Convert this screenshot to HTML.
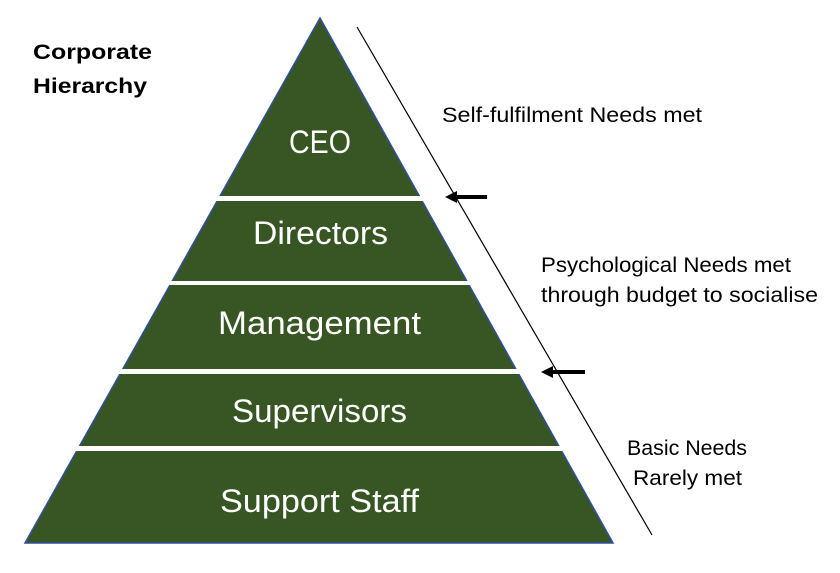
<!DOCTYPE html>
<html><head><style>body{margin:0;background:#fff}svg{display:block}</style></head><body>
<svg width="840" height="573" xmlns="http://www.w3.org/2000/svg" font-family="Liberation Sans, sans-serif">
<polygon points="320,18 613,543 25,543" fill="#375623" stroke="#2f4f9f" stroke-width="1.5"/>
<rect x="0" y="196" width="700" height="5" fill="#fff"/>
<rect x="0" y="281" width="700" height="4" fill="#fff"/>
<rect x="0" y="369" width="700" height="5" fill="#fff"/>
<rect x="0" y="446" width="700" height="5" fill="#fff"/>
<g fill="#fff" font-size="32" lengthAdjust="spacingAndGlyphs">
<text x="289" y="153" textLength="62" lengthAdjust="spacingAndGlyphs">CEO</text>
<text x="253" y="244" textLength="135" lengthAdjust="spacingAndGlyphs">Directors</text>
<text x="218" y="334" textLength="203" lengthAdjust="spacingAndGlyphs">Management</text>
<text x="232" y="422" textLength="175" lengthAdjust="spacingAndGlyphs">Supervisors</text>
<text x="220" y="512" textLength="199" lengthAdjust="spacingAndGlyphs">Support Staff</text>
</g>
<line x1="357" y1="27" x2="652" y2="535" stroke="#000" stroke-width="1.2"/>
<rect x="456" y="195" width="31" height="4" fill="#000"/>
<polygon points="445,197 457,191 457,203" fill="#000"/>
<rect x="552" y="370" width="33" height="4" fill="#000"/>
<polygon points="541,372 553,366 553,378" fill="#000"/>
<g font-size="21" fill="#000">
<text x="33" y="59" font-weight="bold" textLength="119" lengthAdjust="spacingAndGlyphs">Corporate</text>
<text x="33" y="93" font-weight="bold" textLength="114" lengthAdjust="spacingAndGlyphs">Hierarchy</text>
<text x="442" y="122" textLength="260" lengthAdjust="spacingAndGlyphs">Self-fulfilment Needs met</text>
<text x="541" y="272" textLength="250" lengthAdjust="spacingAndGlyphs">Psychological Needs met</text>
<text x="541" y="302" textLength="277" lengthAdjust="spacingAndGlyphs">through budget to socialise</text>
<text x="627" y="455" textLength="120" lengthAdjust="spacingAndGlyphs">Basic Needs</text>
<text x="633" y="485" textLength="109" lengthAdjust="spacingAndGlyphs">Rarely met</text>
</g>
</svg>
</body></html>
